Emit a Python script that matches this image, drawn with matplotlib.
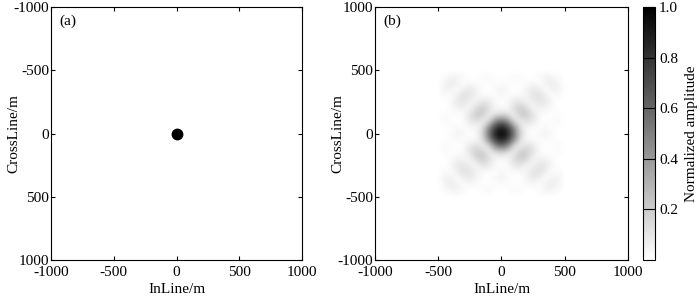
import numpy as np
import matplotlib
matplotlib.use('Agg')
import matplotlib.pyplot as plt

plt.rcParams['font.family'] = ['Liberation Serif', 'DejaVu Serif']
plt.rcParams['font.size'] = 11
plt.rcParams['axes.unicode_minus'] = False

# (a) point source
src_x = [0]
src_y = [0]

# (b) normalized amplitude, one quadrant (rows: CrossLine 0..500 m, cols: InLine 0..500 m, 50 m step)
grid_m = [0, 50, 100, 150, 200, 250, 300, 350, 400, 450, 500]
amp_quadrant = [
    [1.00, 0.88, 0.55, 0.16, 0.03, 0.00, 0.04, 0.05, 0.02, 0.00, 0.00],
    [0.88, 0.75, 0.44, 0.10, 0.03, 0.03, 0.01, 0.03, 0.01, 0.01, 0.00],
    [0.55, 0.44, 0.10, 0.06, 0.14, 0.09, 0.02, 0.00, 0.01, 0.03, 0.00],
    [0.16, 0.10, 0.06, 0.22, 0.20, 0.11, 0.02, 0.01, 0.01, 0.02, 0.00],
    [0.03, 0.03, 0.14, 0.20, 0.15, 0.03, 0.05, 0.05, 0.02, 0.00, 0.00],
    [0.00, 0.03, 0.09, 0.11, 0.03, 0.06, 0.11, 0.09, 0.03, 0.00, 0.00],
    [0.04, 0.01, 0.02, 0.02, 0.05, 0.11, 0.12, 0.07, 0.00, 0.03, 0.00],
    [0.05, 0.03, 0.00, 0.01, 0.05, 0.09, 0.07, 0.00, 0.06, 0.05, 0.00],
    [0.02, 0.01, 0.01, 0.01, 0.02, 0.03, 0.00, 0.06, 0.08, 0.04, 0.00],
    [0.00, 0.01, 0.03, 0.02, 0.00, 0.00, 0.03, 0.05, 0.04, 0.02, 0.00],
    [0.00, 0.00, 0.00, 0.00, 0.00, 0.00, 0.00, 0.00, 0.00, 0.00, 0.00],
]
ticks = [-1000, -500, 0, 500, 1000]
cbar_ticks = [0.2, 0.4, 0.6, 0.8, 1.0]

# mirror the quadrant into the full symmetric pattern
q = np.array(amp_quadrant)
n = len(grid_m) - 1
idx = np.abs(np.arange(-n, n + 1))
amp = q[np.ix_(idx, idx)]
step = grid_m[1] - grid_m[0]
half = grid_m[-1] + step / 2

fig = plt.figure(figsize=(7, 2.96), dpi=100)
ax1 = fig.add_axes([0.0729, 0.1216, 0.3586, 0.8547])
ax2 = fig.add_axes([0.5357, 0.1216, 0.3614, 0.8547])
cax = fig.add_axes([0.9186, 0.1216, 0.0171, 0.8547])

ax1.plot(src_x, src_y, 'o', color='k', markersize=7.5)
ax1.set_xlim(-1000, 1000)
ax1.set_ylim(1000, -1000)
ax1.text(0.035, 0.97, '(a)', transform=ax1.transAxes, va='top', ha='left')

im = ax2.imshow(amp, cmap='gray_r', vmin=0, vmax=1, interpolation='bicubic',
                origin='lower', extent=[-half, half, -half, half])
ax2.set_xlim(-1000, 1000)
ax2.set_ylim(-1000, 1000)
ax2.set_aspect('auto')
ax2.text(0.035, 0.97, '(b)', transform=ax2.transAxes, va='top', ha='left')

for ax in (ax1, ax2):
    ax.set_xticks(ticks)
    ax.set_yticks(ticks)
    ax.set_xlabel('InLine/m', labelpad=2.5)
    ax.set_ylabel('CrossLine/m', labelpad=-5)
    ax.tick_params(direction='in', top=True, right=True, length=3, width=0.8)
    ax.tick_params(axis='x', pad=4.5)
    ax.tick_params(axis='y', pad=1.5)
    for s in ax.spines.values():
        s.set_linewidth(0.8)

cb = fig.colorbar(im, cax=cax, ticks=cbar_ticks)
cb.ax.tick_params(direction='in', length=8.6, width=0.8, pad=3)
cb.outline.set_linewidth(0.8)
cb.set_label('Normalized amplitude', labelpad=5)

fig.savefig('out.png', dpi=100)
